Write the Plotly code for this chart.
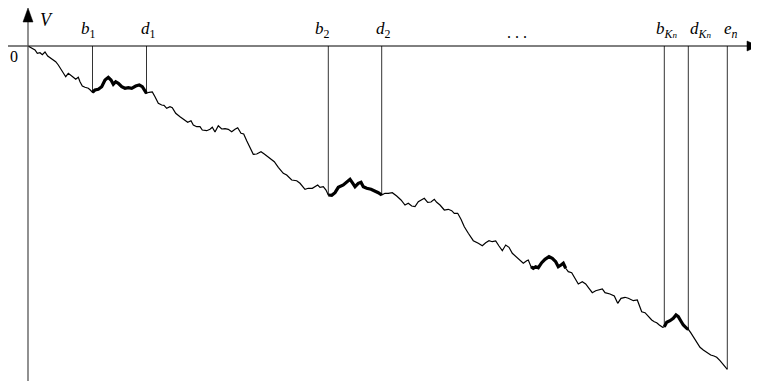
import plotly.graph_objects as go

# path of the walk: time t and value V (V = 0 on the horizontal axis)
t = [28, 31.7, 35, 37.3, 40, 42.3, 45, 47.7, 51, 55.7, 58.3, 62.3, 65.7, 68.3, 71, 73.3,
     75.7, 78.3, 80, 82.3, 85, 88.3, 90.3, 92.5, 95, 98.3, 101.7, 105, 108.3, 111, 113.3,
     115.7, 118.3, 121.7, 125, 128.3, 131.7, 135.7, 139.3, 142.3, 145, 146.5, 149, 152.3,
     155, 158.3, 161.7, 164, 166.7, 170, 172.3, 175.7, 180, 184.3, 187.7, 191, 193.3,
     196.7, 200, 202.3, 206.7, 210, 212.3, 215, 218.3, 221.7, 225, 228.3, 231.7, 235,
     237.7, 241, 243.7, 246.7, 250, 253.3, 256.7, 261, 264.3, 269, 274.3, 278.3, 283.3,
     286.7, 291.7, 296.7, 300, 305, 308.3, 312.3, 315, 317.7, 320, 323.3, 326, 328.3,
     331.7, 335, 338.3, 343.3, 346.7, 350, 352.3, 355, 358.3, 361, 363.3, 366.7, 371,
     375, 378.3, 381.7, 385, 388.3, 392.3, 396.7, 401, 405, 408.3, 411.7, 415, 418.3,
     421.7, 424.3, 427.7, 431, 434.3, 436.7, 440, 444.3, 448.3, 451.7, 454.3, 457.7, 461,
     464.3, 468.3, 473.3, 478.3, 482.3, 485.7, 489, 492.3, 495.7, 499, 502.3, 505.7, 509,
     512.3, 516.7, 520, 523.3, 526.7, 528.3, 531, 533.3, 535.7, 538.3, 541.7, 545, 549,
     552.3, 555.7, 558.3, 561, 563.3, 565.7, 568.3, 571.7, 575, 578.3, 582.3, 585.7, 589,
     592.3, 595.7, 600, 602.3, 605, 610, 614.3, 617.7, 621, 625, 628.3, 633.3, 637.3,
     639.3, 641.7, 645, 648.3, 651.7, 654.3, 656.7, 659.3, 662.7, 664.3, 666.7, 670,
     673.3, 676, 678.3, 680.7, 683.3, 686.7, 688.3, 690.7, 693.3, 696.7, 700, 703.3,
     707.3, 710.7, 714, 716.7, 720, 723.3, 727.3]
v = [0, -2.3, -4, -7.3, -6.7, -8.7, -6, -10, -12.3, -15.7, -19, -25, -30.7, -27.3, -30,
     -31.3, -33.3, -31.3, -35.7, -40, -41.3, -42.3, -44, -46.3, -44, -43.3, -40.7, -34,
     -31.3, -34, -38.3, -35.7, -37.3, -40.7, -42.3, -41.7, -42.3, -40, -39, -40.7, -44.7,
     -47.3, -46.3, -46, -50.7, -57.3, -59, -59.3, -62.3, -60.7, -61.7, -67.3, -70.7, -74,
     -76.3, -74.7, -79, -80.7, -80.7, -84, -84.7, -83.3, -81.3, -86, -79.7, -83, -82.7,
     -83.3, -85.7, -83.3, -81.7, -87.3, -88, -94.7, -102.3, -108.3, -108, -105.7, -108,
     -111.3, -115.7, -121.3, -127.3, -129, -134, -134.7, -137.3, -143.3, -142.3, -142.3,
     -140.7, -139, -141.3, -140.7, -144, -149, -149.3, -146.7, -141.3, -139, -135.7,
     -133.3, -136.7, -140.7, -137.3, -136.3, -140.7, -142.3, -143.3, -145, -146.7, -149,
     -147.3, -147.3, -146.7, -150, -154, -159, -157.3, -160, -160.7, -155.7, -153.3,
     -152.3, -156.3, -156, -153.3, -156.3, -159, -164, -163.3, -164.7, -167.3, -167.3,
     -173.3, -180.7, -187.3, -194.7, -197.3, -199.7, -196.7, -194.7, -195.7, -195, -200,
     -204.7, -199, -201.3, -207.3, -211.7, -214.7, -217.3, -214.7, -214, -220.7, -222.3,
     -220.7, -221.7, -216.7, -213.3, -210.7, -212.3, -215.7, -220.7, -219, -217.3, -222.3,
     -225.7, -226.7, -232.3, -238, -235.7, -238, -242.3, -246.7, -244.7, -244, -243,
     -246.7, -248, -250, -257.3, -252.3, -251.3, -252.3, -254.7, -254, -259, -265.7,
     -266.7, -270.7, -274, -275.7, -276.7, -279, -281.3, -280.7, -276.3, -274.7, -272.3,
     -269, -270.7, -274.7, -279, -282.3, -283.3, -286.7, -290.7, -295.7, -301.3, -304,
     -306.7, -309, -310, -311.3, -314.7, -319, -323.3]

# excursion intervals drawn thick
thick_start = [92.5, 328.3, 531, 664.3]
thick_end = [146.5, 381.7, 565.7, 688.3]

# marked times with vertical drop lines
mark_t = [92.5, 146.5, 328.3, 381.7, 664.3, 688.3, 727.3]
kn = "<sub><i>K<span style='font-size:9px'>n</span></i></sub>"
mark_labels = ["<i>b</i><sub>1</sub>", "<i>d</i><sub>1</sub>",
               "<i>b</i><sub>2</sub>", "<i>d</i><sub>2</sub>",
               "<i>b</i>" + kn, "<i>d</i>" + kn,
               "<i>e</i><sub><i>n</i></sub>"]
label_x = [88, 148, 322, 383, 666, 700, 731]

SERIF = "Liberation Serif"

fig = go.Figure()

# drop lines
dx, dy = [], []
for m in mark_t:
    dx += [m, m, None]
    dy += [0, v[t.index(m)], None]
fig.add_trace(go.Scatter(x=dx, y=dy, mode="lines",
                         line=dict(color="#333333", width=1), hoverinfo="skip"))

# walk
fig.add_trace(go.Scatter(x=t, y=v, mode="lines",
                         line=dict(color="black", width=1.2), hoverinfo="skip"))

# thick pieces
for a, b in zip(thick_start, thick_end):
    xs = [ti for ti in t if a <= ti <= b]
    ys = [vi for ti, vi in zip(t, v) if a <= ti <= b]
    fig.add_trace(go.Scatter(x=xs, y=ys, mode="lines",
                             line=dict(color="black", width=3.2), hoverinfo="skip"))

# axes with arrows
fig.add_shape(type="line", x0=5, x1=750, y0=0, y1=0, line=dict(color="black", width=1))
fig.add_shape(type="line", x0=28, x1=28, y0=-335, y1=25, line=dict(color="#555555", width=1.3))
fig.add_shape(type="path", path="M 747 -5 L 758.5 0 L 747 5 Z",
              fillcolor="black", line=dict(color="black", width=0.5))
fig.add_shape(type="path", path="M 23 24 L 28 38 L 33 24 Z",
              fillcolor="black", line=dict(color="black", width=0.5))

for lx, lab in zip(label_x, mark_labels):
    fig.add_annotation(x=lx, y=16, text=lab, showarrow=False,
                       font=dict(family=SERIF, size=17, color="black"))
fig.add_annotation(x=517, y=14, text=". . .", showarrow=False,
                   font=dict(family=SERIF, size=16, color="black"))
fig.add_annotation(x=14, y=-10, text="0", showarrow=False,
                   font=dict(family=SERIF, size=16, color="black"))
fig.add_annotation(x=46, y=38, text="<i>V</i>", showarrow=False, yanchor="top",
                   font=dict(family=SERIF, size=18, color="black"))

# page body has an 8px margin, so the plot area starts at pixel 8
fig.update_layout(
    width=751,
    height=373,
    autosize=False,
    margin=dict(l=0, r=0, t=0, b=0),
    showlegend=False,
    plot_bgcolor="white",
    paper_bgcolor="white"
)
fig.update_xaxes(range=[8, 759], visible=False)
fig.update_yaxes(range=[-335, 38], visible=False)

fig.write_html("out.html")
